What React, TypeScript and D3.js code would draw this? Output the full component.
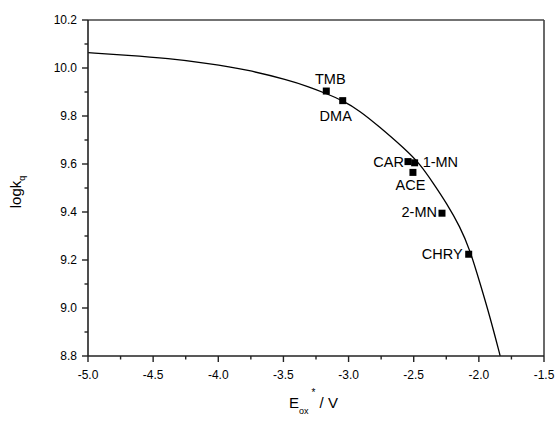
import React from "react";
import * as d3 from "d3";

// Data
const compounds = ["TMB", "DMA", "CAR", "1-MN", "ACE", "2-MN", "CHRY"];
const eox = [-3.171, -3.045, -2.544, -2.493, -2.506, -2.283, -2.078];
const logkq = [9.904, 9.864, 9.61, 9.605, 9.565, 9.395, 9.224];

// Fitted curve
const curveX = [-5.0, -4.693, -4.386, -4.079, -3.772, -3.465, -3.311, -3.173, -3.043, -2.913, -2.774, -2.567, -2.452, -2.35, -2.247, -2.145, -2.068, -1.991, -1.915, -1.838, -1.832];
const curveY = [10.064, 10.053, 10.04, 10.02, 9.992, 9.95, 9.923, 9.894, 9.864, 9.821, 9.76, 9.663, 9.6, 9.52, 9.436, 9.339, 9.242, 9.103, 8.964, 8.804, 8.79];

const xTicks = [-5.0, -4.5, -4.0, -3.5, -3.0, -2.5, -2.0, -1.5];
const yTicks = [8.8, 9.0, 9.2, 9.4, 9.6, 9.8, 10.0, 10.2];

// label placement (layout only)
const labelPlace: { anchor: "start" | "middle" | "end"; dx: number; dy: number }[] = [
  { anchor: "middle", dx: 4, dy: -7 },
  { anchor: "middle", dx: -7, dy: 20 },
  { anchor: "end", dx: -4, dy: 5 },
  { anchor: "start", dx: 8, dy: 4 },
  { anchor: "middle", dx: -2.5, dy: 18 },
  { anchor: "end", dx: -5, dy: 4 },
  { anchor: "end", dx: -6, dy: 5 },
];

const W = 559;
const H = 421;
const L = 88, R = 544, T = 20, B = 356;
const FONT = "'Liberation Sans', Arial, sans-serif";

export default function App() {
  const x = d3.scaleLinear().domain([-5, -1.5]).range([L, R]);
  const y = d3.scaleLinear().domain([8.8, 10.2]).range([B, T]);

  const xMinor = xTicks.slice(0, -1).map((v) => v + 0.25);
  const yMinor = yTicks.slice(0, -1).map((v) => v + 0.1);

  const line = d3
    .line<number>()
    .x((_, i) => x(curveX[i]))
    .y((_, i) => y(curveY[i]))
    .curve(d3.curveBasis);

  const ms = 7;
  const axisColor = "#222";

  return (
    <svg
      width={W}
      height={H}
      style={{ position: "absolute", left: 0, top: 0, background: "#fff" }}
      fontFamily={FONT}
    >
      <rect x={0} y={0} width={W} height={H} fill="#fff" />
      <defs>
        <clipPath id="plotclip">
          <rect x={L} y={T} width={R - L} height={B - T} />
        </clipPath>
      </defs>

      {/* curve */}
      <path
        d={line(curveX) || ""}
        fill="none"
        stroke="#000"
        strokeWidth={1.3}
        clipPath="url(#plotclip)"
      />

      {/* frame */}
      <line x1={L} y1={T} x2={R} y2={T} stroke="#444" strokeWidth={1.6} />
      <line x1={R} y1={T} x2={R} y2={B} stroke="#444" strokeWidth={1.6} />
      <line x1={L} y1={T} x2={L} y2={B} stroke={axisColor} strokeWidth={1.6} />
      <line x1={L} y1={B} x2={R} y2={B} stroke={axisColor} strokeWidth={1.6} />

      {/* x ticks */}
      {xTicks.map((v) => (
        <g key={"xt" + v}>
          <line x1={x(v)} x2={x(v)} y1={B} y2={B + 6} stroke={axisColor} strokeWidth={1.4} />
          <text x={x(v)} y={B + 22.5} textAnchor="middle" fontSize={12} fill="#000">
            {v.toFixed(1)}
          </text>
        </g>
      ))}
      {xMinor.map((v) => (
        <line key={"xm" + v} x1={x(v)} x2={x(v)} y1={B} y2={B + 3.5} stroke={axisColor} strokeWidth={1.4} />
      ))}

      {/* y ticks */}
      {yTicks.map((v) => (
        <g key={"yt" + v}>
          <line x1={L - 6} x2={L} y1={y(v)} y2={y(v)} stroke={axisColor} strokeWidth={1.4} />
          <text x={L - 11} y={y(v) + 4} textAnchor="end" fontSize={12} fill="#000">
            {v.toFixed(1)}
          </text>
        </g>
      ))}
      {yMinor.map((v) => (
        <line key={"ym" + v} x1={L - 3.5} x2={L} y1={y(v)} y2={y(v)} stroke={axisColor} strokeWidth={1.4} />
      ))}

      {/* points */}
      {compounds.map((c, i) => (
        <rect
          key={"p" + c}
          x={x(eox[i]) - ms / 2}
          y={y(logkq[i]) - ms / 2}
          width={ms}
          height={ms}
          fill="#000"
        />
      ))}

      {/* labels */}
      {compounds.map((c, i) => (
        <text
          key={"l" + c}
          x={x(eox[i]) + labelPlace[i].dx}
          y={y(logkq[i]) + labelPlace[i].dy}
          textAnchor={labelPlace[i].anchor}
          fontSize={14.5}
          fill="#000"
        >
          {c}
        </text>
      ))}

      {/* axis titles */}
      <text x={289} y={408} fontSize={15} fill="#000">
        E
        <tspan fontSize={9} dy={6}>ox</tspan>
        <tspan fontSize={10} dy={-18} dx={3}>*</tspan>
        <tspan fontSize={15} dy={12}> / V</tspan>
      </text>
      <text
        transform={`translate(21, 192) rotate(-90)`}
        textAnchor="middle"
        fontSize={15}
        fill="#000"
      >
        logk
        <tspan fontSize={9} dy={4}>q</tspan>
      </text>
    </svg>
  );
}
